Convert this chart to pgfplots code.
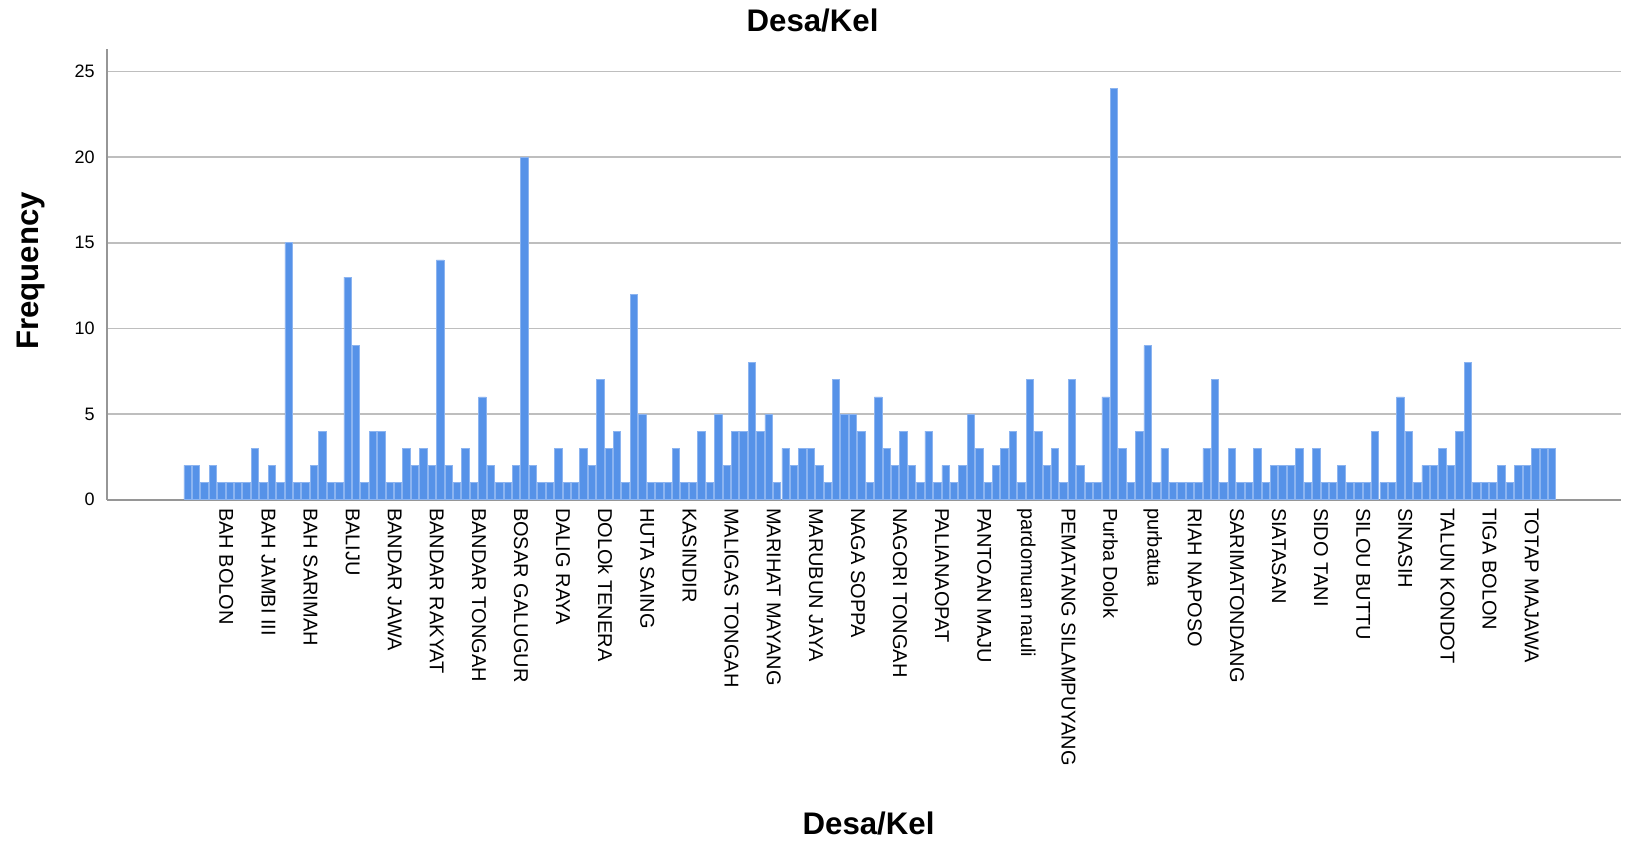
\documentclass[border=0pt]{standalone}
\usepackage{pgfplots}
\pgfplotsset{compat=1.18}
\usepackage{pgfplotstable}
\usepackage{fontspec}
\setmainfont{Liberation Sans}

\definecolor{barblue}{RGB}{86,146,232}
\definecolor{baredge}{RGB}{140,180,240}
\definecolor{gridgray}{RGB}{190,190,190}
\definecolor{axisgray}{RGB}{150,150,150}

% frequency per Desa/Kel, in category order
\pgfplotstableread{
f
2
2
1
2
1
1
1
1
3
1
2
1
15
1
1
2
4
1
1
13
9
1
4
4
1
1
3
2
3
2
14
2
1
3
1
6
2
1
1
2
20
2
1
1
3
1
1
3
2
7
3
4
1
12
5
1
1
1
3
1
1
4
1
5
2
4
4
8
4
5
1
3
2
3
3
2
1
7
5
5
4
1
6
3
2
4
2
1
4
1
2
1
2
5
3
1
2
3
4
1
7
4
2
3
1
7
2
1
1
6
24
3
1
4
9
1
3
1
1
1
1
3
7
1
3
1
1
3
1
2
2
2
3
1
3
1
1
2
1
1
1
4
1
1
6
4
1
2
2
3
2
4
8
1
1
1
2
1
2
2
3
3
3
}\freq

\begin{document}
\begin{tikzpicture}
\path[use as bounding box] (-53.5pt,-171.75pt) rectangle (759pt,249.85pt);
\begin{axis}[
    at={(0,0)}, anchor=south west,
    scale only axis,
    width=757pt, height=225.5pt,
    xmin=-9.56, xmax=170.2,
    ymin=0, ymax=26.33,
    ytick={0,5,10,15,20,25},
    xtick={4,9,...,159},
    xticklabels={BAH BOLON,BAH JAMBI III,BAH SARIMAH,BALIJU,BANDAR JAWA,BANDAR RAKYAT,BANDAR TONGAH,BOSAR GALUGUR,DALIG RAYA,DOLOk TENERA,HUTA SAING,KASINDIR,MALIGAS TONGAH,MARIHAT MAYANG,MARUBUN JAYA,NAGA SOPPA,NAGORI TONGAH,PALIANAOPAT,PANTOAN MAJU,pardomuan nauli,PEMATANG SILAMPUYANG,Purba Dolok,purbatua,RIAH NAPOSO,SARIMATONDANG,SIATASAN,SIDO TANI,SILOU BUTTU,SINASIH,TALUN KONDOT,TIGA BOLON,TOTAP MAJAWA},
    major tick length=0pt,
    axis x line*=bottom, axis y line*=left,
    x axis line style={-, axisgray, line width=1pt},
    y axis line style={-, axisgray, line width=0.8pt},
    ymajorgrids=true,
    grid style={gridgray, line width=0.75pt},
    /pgf/number format/assume math mode=true,
    yticklabel style={font=\fontsize{9}{10}\selectfont, anchor=east, inner sep=0pt, xshift=-6pt},
    xticklabel style={font=\fontsize{10}{11}\selectfont, xshift=2.5pt, rotate=-90, anchor=west, inner sep=0pt},
    xticklabel shift=4pt,
    every axis title shift=0pt,
    title={Desa/Kel},
    title style={font=\fontsize{15.6}{17}\selectfont\bfseries, at={(axis description cs:0.466,1.0621)}, anchor=center},
    xlabel={Desa/Kel},
    xlabel style={font=\fontsize{15.6}{17}\selectfont\bfseries, at={(axis description cs:0.503,-0.7184)}, anchor=center},
    ylabel={Frequency},
    ylabel style={font=\fontsize{15.6}{17}\selectfont\bfseries, at={(axis description cs:-0.0502,0.507)}, anchor=center, rotate=0},
]
\addplot[ybar, bar width=0.88, fill=barblue, draw=baredge, line width=0.3pt]
    table[x expr=\coordindex, y=f] {\freq};
\end{axis}
\end{tikzpicture}
\end{document}
